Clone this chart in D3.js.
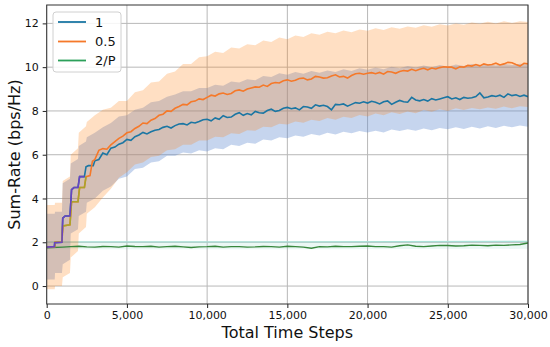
<!DOCTYPE html>
<html><head><meta charset="utf-8">
<script src="https://cdn.jsdelivr.net/npm/d3@7"></script>
<style>body{margin:0;background:#fff}svg{display:block}</style>
</head><body>
<svg id="c" width="550" height="347"></svg>
<script>
// ---- data ----
const xTicks = [0,5000,10000,15000,20000,25000,30000];
const yTicks = [0,2,4,6,8,10,12];
const seriesNames = ["1","0.5","2/P"];

const blueMean = [[0,1.78],[480,1.8],[500,1.98],[950,2.0],[1000,3.1],[1150,3.2],[1450,3.2],[1550,4.4],[1700,4.5],[1950,4.5],[2050,5.0],[2350,5.0],[2450,5.45],[2600,5.5],[2900,5.5],
[3000,5.72],[3250,5.78],[3500,6.08],[3750,6.0],[4000,6.3],[4250,6.35],[4500,6.48],[4750,6.55],[5000,6.7],[5250,6.66],[5500,6.82],[5750,6.9],[6000,7.02],[6250,6.95],[6500,7.05],[6750,7.12],[7000,7.15],[7250,7.25],[7500,7.3],[7750,7.22],[8000,7.33],[8250,7.4],[8500,7.42],[8750,7.36],[9000,7.48],[9250,7.45],[9500,7.52],[9750,7.6],[10000,7.62],[10250,7.55],[10500,7.68],[10750,7.62],[11000,7.78],[11250,7.7],[11500,7.72],[11750,7.85],[12000,7.92],[12250,7.8],[12500,7.88],[12750,7.82],[13000,7.98],[13250,7.92],[13500,7.9],[13750,8.02],[14000,8.08],[14250,7.98],[14500,8.02],[14750,8.12],[15000,8.16],[15250,8.1],[15500,8.14],[15750,8.05],[16000,8.2],[16250,8.18],[16500,8.12],[16750,8.28],[17000,8.22],[17250,8.26],[17500,8.2],[17750,8.05],[18000,8.3],[18250,8.28],[18500,8.32],[18750,8.22],[19000,8.3],[19250,8.38],[19500,8.35],[19750,8.42],[20000,8.36],[20250,8.44],[20500,8.4],[20750,8.32],[21000,8.42],[21250,8.46],[21500,8.3],[21750,8.4],[22000,8.48],[22250,8.42],[22500,8.4],[22750,8.62],[23000,8.5],[23250,8.46],[23500,8.52],[23750,8.45],[24000,8.56],[24250,8.5],[24500,8.55],[24750,8.6],[25000,8.65],[25250,8.55],[25500,8.6],[25750,8.52],[26000,8.62],[26250,8.58],[26500,8.6],[26750,8.66],[27000,8.82],[27250,8.6],[27500,8.64],[27750,8.7],[28000,8.66],[28250,8.72],[28500,8.62],[28750,8.78],[29000,8.7],[29250,8.74],[29500,8.66],[29750,8.72],[30000,8.65]];

const orangeMean = [[0,1.78],[500,1.8],[520,2.0],[950,2.0],[1000,2.75],[1450,2.8],[1550,3.85],[1950,3.85],[2050,4.5],[2350,4.5],[2450,5.0],[2700,5.05],[2850,5.7],
[3000,5.78],[3250,6.2],[3500,6.28],[3750,6.25],[4000,6.45],[4250,6.6],[4500,6.75],[4750,6.85],[5000,7.0],[5250,7.05],[5500,7.2],[5750,7.3],[6000,7.45],[6250,7.42],[6500,7.58],[6750,7.65],[7000,7.8],[7250,7.85],[7500,8.0],[7750,7.98],[8000,8.12],[8250,8.2],[8500,8.3],[8750,8.28],[9000,8.42],[9250,8.45],[9500,8.55],[9750,8.52],[10000,8.62],[10250,8.72],[10500,8.68],[10750,8.78],[11000,8.82],[11250,8.75],[11500,8.8],[11750,8.92],[12000,8.96],[12250,8.9],[12500,9.0],[12750,9.05],[13000,9.1],[13250,9.08],[13500,9.18],[13750,9.12],[14000,9.25],[14250,9.3],[14500,9.28],[14750,9.38],[15000,9.42],[15250,9.36],[15500,9.4],[15750,9.48],[16000,9.5],[16250,9.42],[16500,9.46],[16750,9.58],[17000,9.55],[17250,9.5],[17500,9.52],[17750,9.6],[18000,9.65],[18250,9.55],[18500,9.58],[18750,9.5],[19000,9.62],[19250,9.7],[19500,9.72],[19750,9.68],[20000,9.72],[20250,9.75],[20500,9.7],[20750,9.76],[21000,9.68],[21250,9.8],[21500,9.78],[21750,9.72],[22000,9.8],[22250,9.85],[22500,9.82],[22750,9.9],[23000,9.84],[23250,9.9],[23500,9.95],[23750,9.88],[24000,9.96],[24250,9.92],[24500,9.98],[24750,10.02],[25000,10.0],[25250,10.0],[25500,9.92],[25750,10.02],[26000,10.0],[26250,10.08],[26500,10.05],[26750,10.12],[27000,10.06],[27250,10.15],[27500,10.1],[27750,10.12],[28000,10.18],[28250,10.1],[28500,10.15],[28750,10.22],[29000,10.2],[29250,10.12],[29500,10.05],[29750,10.18],[30000,10.15]];

const greenMean = [[0,1.75],[1000,1.78],[1500,1.8],[2000,1.82],[2500,1.79],[3000,1.78],[3500,1.81],[4000,1.8],[4500,1.78],[5000,1.83],[5500,1.81],[6000,1.8],[6500,1.82],[7000,1.78],[7500,1.8],[8000,1.82],[8500,1.79],[9000,1.76],[9500,1.79],[10000,1.8],[10500,1.82],[11000,1.78],[11500,1.8],[12000,1.8],[12500,1.78],[13000,1.79],[13500,1.81],[14000,1.8],[14500,1.78],[15000,1.82],[15500,1.8],[16000,1.78],[16500,1.73],[17000,1.8],[17500,1.79],[18000,1.82],[18500,1.8],[19000,1.8],[19500,1.82],[20000,1.83],[20500,1.8],[21000,1.8],[21500,1.78],[22000,1.84],[22500,1.88],[23000,1.82],[23500,1.8],[24000,1.83],[24500,1.86],[25000,1.85],[25500,1.83],[26000,1.84],[26500,1.87],[27000,1.86],[27500,1.84],[28000,1.87],[28500,1.86],[29000,1.88],[29500,1.9],[30000,1.97]];

// bands: [step, low, high]
const blueBand = [[0,0.3,3.3],[500,0.3,3.3],[520,0.6,3.4],[950,0.6,3.4],[1000,1.0,4.7],[1450,1.2,4.9],[1500,2.4,5.6],[1950,2.6,5.8],[2000,3.2,6.4],[2450,3.4,6.6],[2500,3.8,6.8],
[3000,4.0,7.0],[3500,4.35,7.25],[4000,4.55,7.45],[4500,4.9,7.75],[5000,5.0,7.8],[5500,5.35,8.05],[6000,5.4,8.15],[6500,5.65,8.4],[7000,5.7,8.45],[7500,5.95,8.65],[8000,5.95,8.75],[8500,6.1,8.9],[9000,6.05,8.9],[9500,6.2,9.05],[10000,6.15,9.05],[10500,6.3,9.2],[11000,6.25,9.15],[11500,6.45,9.35],[12000,6.4,9.3],[12500,6.55,9.45],[13000,6.5,9.4],[13500,6.7,9.6],[14000,6.65,9.55],[14500,6.8,9.72],[15000,6.75,9.65],[15500,6.88,9.78],[16000,6.82,9.7],[16500,6.95,9.82],[17000,6.88,9.75],[17500,7.0,9.85],[18000,6.92,9.78],[18500,7.05,9.9],[19000,6.98,9.82],[19500,7.08,9.95],[20000,7.02,9.88],[20500,7.1,9.98],[21000,7.02,9.9],[21500,7.15,10.02],[22000,7.08,9.95],[22500,7.16,10.05],[23000,7.1,9.98],[23500,7.2,10.08],[24000,7.12,10.0],[24500,7.22,10.1],[25000,7.16,10.02],[25500,7.25,10.12],[26000,7.18,10.05],[26500,7.28,10.14],[27000,7.2,10.06],[27500,7.3,10.15],[28000,7.22,10.08],[28500,7.32,10.16],[29000,7.25,10.1],[29500,7.34,10.16],[30000,7.28,10.12]];

const orangeBand = [[0,-0.15,3.7],[500,-0.15,3.7],[520,0.0,3.8],[950,0.0,3.8],[1000,0.4,4.8],[1450,0.6,5.0],[1500,1.3,6.0],[1950,1.6,6.3],[2000,2.4,7.0],[2450,2.7,7.3],[2500,3.3,7.5],
[3000,3.6,7.8],[3500,4.05,8.05],[4000,4.45,8.15],[4500,4.95,8.45],[5000,5.2,8.45],[5500,5.55,8.85],[6000,5.65,8.95],[6500,5.9,9.3],[7000,5.95,9.35],[7500,6.2,9.7],[8000,6.25,9.8],[8500,6.45,10.15],[9000,6.45,10.15],[9500,6.65,10.45],[10000,6.65,10.5],[10500,6.82,10.7],[11000,6.8,10.65],[11500,6.98,10.9],[12000,6.95,10.85],[12500,7.12,11.05],[13000,7.1,11.0],[13500,7.28,11.22],[14000,7.25,11.15],[14500,7.42,11.35],[15000,7.38,11.28],[15500,7.52,11.45],[16000,7.46,11.38],[16500,7.6,11.55],[17000,7.54,11.48],[17500,7.68,11.62],[18000,7.6,11.55],[18500,7.74,11.68],[19000,7.68,11.6],[19500,7.82,11.72],[20000,7.75,11.66],[20500,7.88,11.78],[21000,7.8,11.7],[21500,7.94,11.82],[22000,7.86,11.76],[22500,7.98,11.86],[23000,7.9,11.8],[23500,8.04,11.92],[24000,7.96,11.85],[24500,8.08,11.96],[25000,8.0,11.9],[25500,8.12,12.0],[26000,8.04,11.94],[26500,8.14,12.04],[27000,8.08,11.98],[27500,8.16,12.08],[28000,8.1,12.0],[28500,8.2,12.1],[29000,8.12,12.02],[29500,8.22,12.1],[30000,8.18,12.06]];

const greenBand = [[0,1.68,2.02],[15000,1.68,2.02],[30000,1.7,2.04]];

// ---- layout ----
const svg = d3.select("#c");
const L = 46.7, R = 528, T = 5, B = 304;
const x = d3.scaleLinear().domain([0,30000]).range([L,R]);
const y = d3.scaleLinear().domain([-0.82,12.84]).range([B,T]);
const font = "DejaVu Sans, sans-serif";

svg.append("defs").append("clipPath").attr("id","clip")
  .append("rect").attr("x",L).attr("y",T).attr("width",R-L).attr("height",B-T);

// grid
const g = svg.append("g");
g.selectAll(".gx").data(xTicks).join("line")
  .attr("x1",d=>x(d)).attr("x2",d=>x(d)).attr("y1",T).attr("y2",B)
  .attr("stroke","#b8b8b8").attr("stroke-width",1);
g.selectAll(".gy").data(yTicks).join("line")
  .attr("x1",L).attr("x2",R).attr("y1",d=>y(d)).attr("y2",d=>y(d))
  .attr("stroke","#b8b8b8").attr("stroke-width",1);

const plot = svg.append("g").attr("clip-path","url(#clip)");
const area = d3.area().x(d=>x(d[0])).y0(d=>y(d[1])).y1(d=>y(d[2]));
const line = d3.line().x(d=>x(d[0])).y(d=>y(d[1]));

plot.append("path").datum(greenBand).attr("d",area).attr("fill","rgba(120,205,190,0.15)");
plot.append("path").datum(greenBand.map(d=>[d[0],d[2]])).attr("d",line)
  .attr("fill","none").attr("stroke","#a8e0d6").attr("stroke-width",1.2);
plot.append("path").datum(blueBand).attr("d",area).attr("fill","rgba(100,140,210,0.37)");
plot.append("path").datum(orangeBand).attr("d",area).attr("fill","rgba(255,127,14,0.25)");

const cBlue = "#1b76a3", cOrange = "#f5792a", cGreen = "#37873c";
plot.append("path").datum(greenMean).attr("d",line).attr("fill","none").attr("stroke",cGreen).attr("stroke-width",1.4);
plot.append("path").datum(blueMean).attr("d",line).attr("fill","none").attr("stroke",cBlue).attr("stroke-width",1.6);
plot.append("path").datum(orangeMean).attr("d",line).attr("fill","none").attr("stroke",cOrange).attr("stroke-width",1.6);
// early overlapping runs
plot.append("path").datum(orangeMean.filter(d=>d[0]<=2450)).attr("d",line).attr("fill","none").attr("stroke","#a9a42c").attr("stroke-width",1.6);
plot.append("path").datum(blueMean.filter(d=>d[0]<=2420)).attr("d",line).attr("fill","none").attr("stroke","#6a44c0").attr("stroke-width",1.6);

// axes
const xa = svg.append("g").attr("transform",`translate(0,${B})`)
  .call(d3.axisBottom(x).tickValues(xTicks).tickFormat(d3.format(",")).tickSize(4).tickPadding(3));
const ya = svg.append("g").attr("transform",`translate(${L},0)`)
  .call(d3.axisLeft(y).tickValues(yTicks).tickSize(4).tickPadding(4));
[xa,ya].forEach(a=>{
  a.select(".domain").remove();
  a.selectAll("line").attr("stroke","#222");
  a.selectAll("text").attr("font-family",font).attr("font-size",11).attr("fill","#111");
});
svg.append("rect").attr("x",L).attr("y",T).attr("width",R-L).attr("height",B-T)
  .attr("fill","none").attr("stroke","#333").attr("stroke-width",1);

// labels
svg.append("text").attr("x",(L+R)/2).attr("y",338).attr("text-anchor","middle")
  .attr("font-family",font).attr("font-size",16).attr("fill","#111").text("Total Time Steps");
svg.append("text").attr("transform",`translate(19.5,${(T+B)/2}) rotate(-90)`).attr("text-anchor","middle")
  .attr("font-family",font).attr("font-size",16).attr("fill","#111").text("Sum-Rate (bps/Hz)");

// legend
const lg = svg.append("g");
lg.append("rect").attr("x",53).attr("y",12).attr("width",68).attr("height",60).attr("rx",3)
  .attr("fill","rgba(255,255,255,0.85)").attr("stroke","#d0d0d0");
const lcol = [cBlue,cOrange,"#2ca05a"];
const rowY = [22,41.5,60.5];
seriesNames.forEach((n,i)=>{
  lg.append("line").attr("x1",58).attr("x2",86).attr("y1",rowY[i]).attr("y2",rowY[i])
    .attr("stroke",lcol[i]).attr("stroke-width",1.8);
  lg.append("text").attr("x",95).attr("y",rowY[i]).attr("dy","0.36em")
    .attr("font-family",font).attr("font-size",13).attr("fill","#111").text(n);
});
</script>
</body></html>
